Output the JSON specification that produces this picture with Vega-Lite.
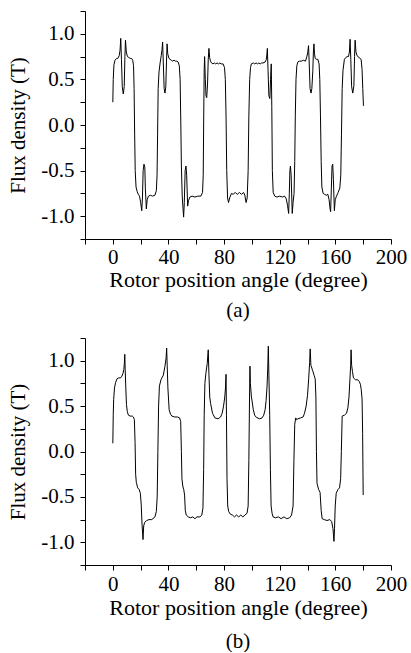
{
  "$schema": "https://vega.github.io/schema/vega-lite/v6.json",
  "background": "white",
  "padding": {"left": 7, "top": 0, "right": 0, "bottom": 0},
  "spacing": 6,
  "config": {
    "font": "Liberation Serif",
    "view": {"stroke": null},
    "axis": {
      "grid": false,
      "domainColor": "black",
      "tickColor": "black",
      "labelColor": "black",
      "titleColor": "black",
      "labelFont": "Liberation Serif",
      "titleFont": "Liberation Serif",
      "labelFontSize": 21,
      "titleFontSize": 21,
      "titleFontWeight": "normal",
      "tickSize": 5,
      "labelFlush": false,
      "labelOverlap": false
    },
    "axisX": {"titleFontSize": 22},
    "title": {"font": "Liberation Serif", "fontSize": 21, "fontWeight": "normal", "color": "black"}
  },
  "datasets": {
    "a": [
      {"angle": 0, "flux": 0.25}, {"angle": 0.3, "flux": 0.5}, {"angle": 0.8, "flux": 0.66}, {"angle": 1.6, "flux": 0.71},
      {"angle": 2.7, "flux": 0.73}, {"angle": 3.6, "flux": 0.73}, {"angle": 4.6, "flux": 0.76}, {"angle": 5.2, "flux": 0.82},
      {"angle": 5.7, "flux": 0.95}, {"angle": 6.2, "flux": 0.72}, {"angle": 6.8, "flux": 0.42}, {"angle": 7.5, "flux": 0.34},
      {"angle": 8.2, "flux": 0.42}, {"angle": 8.7, "flux": 0.75}, {"angle": 9.1, "flux": 0.93}, {"angle": 9.7, "flux": 0.8},
      {"angle": 10.5, "flux": 0.75}, {"angle": 11.5, "flux": 0.74}, {"angle": 12.5, "flux": 0.73}, {"angle": 13.5, "flux": 0.73},
      {"angle": 14.3, "flux": 0.71}, {"angle": 14.9, "flux": 0.65}, {"angle": 15.3, "flux": 0.4}, {"angle": 15.7, "flux": -0.1},
      {"angle": 16.1, "flux": -0.5}, {"angle": 16.7, "flux": -0.68}, {"angle": 17.5, "flux": -0.73}, {"angle": 18.3, "flux": -0.76},
      {"angle": 19.2, "flux": -0.78}, {"angle": 20.0, "flux": -0.85}, {"angle": 20.8, "flux": -0.94}, {"angle": 21.3, "flux": -0.8},
      {"angle": 21.8, "flux": -0.5}, {"angle": 22.4, "flux": -0.43}, {"angle": 23.0, "flux": -0.46}, {"angle": 23.4, "flux": -0.7},
      {"angle": 24.1, "flux": -0.92}, {"angle": 24.7, "flux": -0.82}, {"angle": 25.6, "flux": -0.78}, {"angle": 27, "flux": -0.77},
      {"angle": 28.5, "flux": -0.78}, {"angle": 30.3, "flux": -0.77}, {"angle": 31.3, "flux": -0.72}, {"angle": 31.8, "flux": -0.55},
      {"angle": 32.2, "flux": -0.1}, {"angle": 32.6, "flux": 0.4}, {"angle": 33.2, "flux": 0.58}, {"angle": 34.0, "flux": 0.68},
      {"angle": 34.8, "flux": 0.76}, {"angle": 35.4, "flux": 0.83}, {"angle": 35.8, "flux": 0.91}, {"angle": 36.3, "flux": 0.68},
      {"angle": 36.9, "flux": 0.4}, {"angle": 37.5, "flux": 0.35}, {"angle": 38.1, "flux": 0.42}, {"angle": 38.6, "flux": 0.7},
      {"angle": 39.0, "flux": 0.89}, {"angle": 39.5, "flux": 0.78}, {"angle": 40.4, "flux": 0.73}, {"angle": 42, "flux": 0.71},
      {"angle": 43, "flux": 0.7}, {"angle": 44, "flux": 0.71}, {"angle": 45, "flux": 0.7}, {"angle": 46, "flux": 0.7},
      {"angle": 47, "flux": 0.69}, {"angle": 47.8, "flux": 0.65}, {"angle": 48.4, "flux": 0.5}, {"angle": 48.9, "flux": 0.0},
      {"angle": 49.3, "flux": -0.45}, {"angle": 49.9, "flux": -0.78}, {"angle": 50.4, "flux": -0.9}, {"angle": 50.9, "flux": -1.01},
      {"angle": 51.4, "flux": -0.85}, {"angle": 52.0, "flux": -0.5}, {"angle": 52.6, "flux": -0.45}, {"angle": 53.1, "flux": -0.55},
      {"angle": 53.8, "flux": -0.89}, {"angle": 54.4, "flux": -0.83}, {"angle": 55.4, "flux": -0.79}, {"angle": 57, "flux": -0.78},
      {"angle": 59, "flux": -0.79}, {"angle": 61, "flux": -0.78}, {"angle": 63.3, "flux": -0.78}, {"angle": 64.5, "flux": -0.74},
      {"angle": 65.0, "flux": -0.55}, {"angle": 65.3, "flux": 0.0}, {"angle": 65.7, "flux": 0.6}, {"angle": 66.0, "flux": 0.75},
      {"angle": 66.5, "flux": 0.5}, {"angle": 67.0, "flux": 0.32}, {"angle": 67.5, "flux": 0.3}, {"angle": 68.1, "flux": 0.45},
      {"angle": 68.6, "flux": 0.72}, {"angle": 69.1, "flux": 0.84}, {"angle": 69.6, "flux": 0.74}, {"angle": 70.2, "flux": 0.7},
      {"angle": 71, "flux": 0.68}, {"angle": 72, "flux": 0.67}, {"angle": 73, "flux": 0.68}, {"angle": 74, "flux": 0.67},
      {"angle": 75, "flux": 0.68}, {"angle": 76, "flux": 0.67}, {"angle": 77, "flux": 0.68}, {"angle": 78, "flux": 0.67},
      {"angle": 79.3, "flux": 0.67}, {"angle": 80.3, "flux": 0.63}, {"angle": 80.9, "flux": 0.5}, {"angle": 81.4, "flux": 0.1},
      {"angle": 81.9, "flux": -0.5}, {"angle": 82.5, "flux": -0.8}, {"angle": 83.2, "flux": -0.85}, {"angle": 84, "flux": -0.8},
      {"angle": 85.3, "flux": -0.75}, {"angle": 86.5, "flux": -0.76}, {"angle": 88, "flux": -0.74}, {"angle": 89.5, "flux": -0.76},
      {"angle": 91, "flux": -0.74}, {"angle": 92.5, "flux": -0.76}, {"angle": 94, "flux": -0.74}, {"angle": 94.9, "flux": -0.77},
      {"angle": 95.8, "flux": -0.85}, {"angle": 96.6, "flux": -0.8}, {"angle": 97.3, "flux": -0.5}, {"angle": 97.8, "flux": 0.1},
      {"angle": 98.4, "flux": 0.5}, {"angle": 99.0, "flux": 0.63}, {"angle": 99.6, "flux": 0.67}, {"angle": 101, "flux": 0.68},
      {"angle": 102, "flux": 0.67}, {"angle": 103, "flux": 0.68}, {"angle": 104, "flux": 0.67}, {"angle": 105, "flux": 0.68},
      {"angle": 106, "flux": 0.67}, {"angle": 107, "flux": 0.68}, {"angle": 108, "flux": 0.68}, {"angle": 109.5, "flux": 0.69},
      {"angle": 110.4, "flux": 0.72}, {"angle": 110.8, "flux": 0.78}, {"angle": 111.1, "flux": 0.84}, {"angle": 111.6, "flux": 0.6},
      {"angle": 112.2, "flux": 0.32}, {"angle": 112.9, "flux": 0.29}, {"angle": 113.4, "flux": 0.5}, {"angle": 113.9, "flux": 0.67},
      {"angle": 114.3, "flux": 0.2}, {"angle": 114.7, "flux": -0.5}, {"angle": 115.3, "flux": -0.74}, {"angle": 116.4, "flux": -0.78},
      {"angle": 118, "flux": -0.79}, {"angle": 120, "flux": -0.78}, {"angle": 122, "flux": -0.79}, {"angle": 123.5, "flux": -0.78},
      {"angle": 124.7, "flux": -0.81}, {"angle": 125.6, "flux": -0.88}, {"angle": 126.4, "flux": -0.97}, {"angle": 126.9, "flux": -0.75},
      {"angle": 127.3, "flux": -0.5}, {"angle": 127.7, "flux": -0.45}, {"angle": 128.2, "flux": -0.55}, {"angle": 129.0, "flux": -0.97},
      {"angle": 129.6, "flux": -0.85}, {"angle": 130.3, "flux": -0.75}, {"angle": 130.8, "flux": -0.4}, {"angle": 131.2, "flux": 0.1},
      {"angle": 131.7, "flux": 0.5}, {"angle": 132.3, "flux": 0.65}, {"angle": 133, "flux": 0.69}, {"angle": 134, "flux": 0.7},
      {"angle": 135.5, "flux": 0.7}, {"angle": 137, "flux": 0.71}, {"angle": 138.5, "flux": 0.7}, {"angle": 139.5, "flux": 0.75},
      {"angle": 140.2, "flux": 0.8}, {"angle": 140.7, "flux": 0.87}, {"angle": 141.2, "flux": 0.68}, {"angle": 141.8, "flux": 0.4},
      {"angle": 142.5, "flux": 0.35}, {"angle": 143.1, "flux": 0.4}, {"angle": 143.8, "flux": 0.6}, {"angle": 144.2, "flux": 0.8},
      {"angle": 144.6, "flux": 0.89}, {"angle": 145.0, "flux": 0.78}, {"angle": 145.5, "flux": 0.73}, {"angle": 146.5, "flux": 0.72},
      {"angle": 147.4, "flux": 0.72}, {"angle": 148.3, "flux": 0.67}, {"angle": 148.8, "flux": 0.5}, {"angle": 149.3, "flux": 0.1},
      {"angle": 149.8, "flux": -0.4}, {"angle": 150.3, "flux": -0.68}, {"angle": 151.2, "flux": -0.75}, {"angle": 152.2, "flux": -0.76},
      {"angle": 153.5, "flux": -0.77}, {"angle": 154.6, "flux": -0.76}, {"angle": 155.5, "flux": -0.82}, {"angle": 156.2, "flux": -0.92},
      {"angle": 156.6, "flux": -0.95}, {"angle": 157.1, "flux": -0.7}, {"angle": 157.6, "flux": -0.45}, {"angle": 158.1, "flux": -0.43},
      {"angle": 158.6, "flux": -0.6}, {"angle": 159.3, "flux": -0.94}, {"angle": 159.9, "flux": -0.82}, {"angle": 160.8, "flux": -0.78},
      {"angle": 162, "flux": -0.74}, {"angle": 163.2, "flux": -0.69}, {"angle": 163.9, "flux": -0.55}, {"angle": 164.4, "flux": -0.1},
      {"angle": 164.9, "flux": 0.4}, {"angle": 165.5, "flux": 0.6}, {"angle": 166.5, "flux": 0.72}, {"angle": 167.5, "flux": 0.74},
      {"angle": 168.5, "flux": 0.75}, {"angle": 169.4, "flux": 0.75}, {"angle": 170.1, "flux": 0.8}, {"angle": 170.6, "flux": 0.94},
      {"angle": 171.1, "flux": 0.72}, {"angle": 171.7, "flux": 0.42}, {"angle": 172.5, "flux": 0.35}, {"angle": 173.3, "flux": 0.43},
      {"angle": 173.8, "flux": 0.75}, {"angle": 174.2, "flux": 0.93}, {"angle": 174.8, "flux": 0.8}, {"angle": 175.6, "flux": 0.76},
      {"angle": 177, "flux": 0.74}, {"angle": 178.5, "flux": 0.72}, {"angle": 179.2, "flux": 0.61}, {"angle": 179.7, "flux": 0.4},
      {"angle": 180.2, "flux": 0.21}
    ],
    "b": [
      {"angle": 0, "flux": 0.09}, {"angle": 0.3, "flux": 0.4}, {"angle": 0.6, "flux": 0.57}, {"angle": 1.2, "flux": 0.7},
      {"angle": 2.0, "flux": 0.76}, {"angle": 3.0, "flux": 0.8}, {"angle": 4.0, "flux": 0.81}, {"angle": 5.5, "flux": 0.81},
      {"angle": 6.5, "flux": 0.83}, {"angle": 7.3, "flux": 0.86}, {"angle": 7.9, "flux": 0.9}, {"angle": 8.3, "flux": 0.97},
      {"angle": 8.6, "flux": 1.07}, {"angle": 8.9, "flux": 0.9}, {"angle": 9.3, "flux": 0.72}, {"angle": 9.8, "flux": 0.52},
      {"angle": 10.4, "flux": 0.44}, {"angle": 11.2, "flux": 0.4}, {"angle": 12.5, "flux": 0.39}, {"angle": 14, "flux": 0.39},
      {"angle": 14.8, "flux": 0.38}, {"angle": 15.5, "flux": 0.35}, {"angle": 16.0, "flux": 0.1}, {"angle": 16.4, "flux": -0.25},
      {"angle": 16.9, "flux": -0.34}, {"angle": 17.9, "flux": -0.4}, {"angle": 19.0, "flux": -0.42}, {"angle": 19.8, "flux": -0.46},
      {"angle": 20.4, "flux": -0.58}, {"angle": 21.0, "flux": -0.8}, {"angle": 21.7, "flux": -0.97}, {"angle": 22.2, "flux": -0.82},
      {"angle": 22.9, "flux": -0.78}, {"angle": 24.4, "flux": -0.76}, {"angle": 26, "flux": -0.75}, {"angle": 28, "flux": -0.75},
      {"angle": 30.3, "flux": -0.72}, {"angle": 31.3, "flux": -0.66}, {"angle": 31.9, "flux": -0.5}, {"angle": 32.4, "flux": 0.0},
      {"angle": 32.9, "flux": 0.5}, {"angle": 33.5, "flux": 0.72}, {"angle": 34.6, "flux": 0.79}, {"angle": 36.3, "flux": 0.84},
      {"angle": 37.5, "flux": 0.94}, {"angle": 38.3, "flux": 1.03}, {"angle": 38.7, "flux": 1.14}, {"angle": 39.1, "flux": 0.95},
      {"angle": 39.6, "flux": 0.7}, {"angle": 40.5, "flux": 0.46}, {"angle": 41.5, "flux": 0.41}, {"angle": 42.5, "flux": 0.39},
      {"angle": 44.5, "flux": 0.38}, {"angle": 46.5, "flux": 0.38}, {"angle": 48.0, "flux": 0.37}, {"angle": 48.8, "flux": 0.33},
      {"angle": 49.3, "flux": 0.0}, {"angle": 49.7, "flux": -0.3}, {"angle": 50.3, "flux": -0.38}, {"angle": 51.0, "flux": -0.42},
      {"angle": 51.6, "flux": -0.48}, {"angle": 52.1, "flux": -0.65}, {"angle": 52.8, "flux": -0.7}, {"angle": 54.2, "flux": -0.72},
      {"angle": 56, "flux": -0.73}, {"angle": 57.5, "flux": -0.72}, {"angle": 59, "flux": -0.74}, {"angle": 60.5, "flux": -0.72},
      {"angle": 62.6, "flux": -0.72}, {"angle": 64.0, "flux": -0.7}, {"angle": 64.8, "flux": -0.62}, {"angle": 65.3, "flux": -0.2},
      {"angle": 65.7, "flux": 0.4}, {"angle": 66.2, "flux": 0.75}, {"angle": 66.9, "flux": 0.86}, {"angle": 67.9, "flux": 0.97},
      {"angle": 68.6, "flux": 1.12}, {"angle": 69.1, "flux": 0.85}, {"angle": 69.7, "flux": 0.6}, {"angle": 70.3, "flux": 0.53},
      {"angle": 71.7, "flux": 0.42}, {"angle": 73.4, "flux": 0.37}, {"angle": 75.7, "flux": 0.36}, {"angle": 77.5, "flux": 0.38},
      {"angle": 78.6, "flux": 0.42}, {"angle": 79.6, "flux": 0.5}, {"angle": 80.5, "flux": 0.6}, {"angle": 81.0, "flux": 0.7},
      {"angle": 81.4, "flux": 0.85}, {"angle": 81.7, "flux": 0.4}, {"angle": 82.1, "flux": -0.3}, {"angle": 82.6, "flux": -0.6},
      {"angle": 83.3, "flux": -0.66}, {"angle": 84.5, "flux": -0.69}, {"angle": 86, "flux": -0.7}, {"angle": 87.5, "flux": -0.72},
      {"angle": 89, "flux": -0.7}, {"angle": 90.5, "flux": -0.72}, {"angle": 92, "flux": -0.7}, {"angle": 93.5, "flux": -0.72},
      {"angle": 95, "flux": -0.7}, {"angle": 96.5, "flux": -0.68}, {"angle": 97.3, "flux": -0.6}, {"angle": 97.8, "flux": -0.1},
      {"angle": 98.3, "flux": 0.6}, {"angle": 98.6, "flux": 0.94}, {"angle": 98.9, "flux": 0.75}, {"angle": 99.6, "flux": 0.61},
      {"angle": 101.0, "flux": 0.46}, {"angle": 102, "flux": 0.4}, {"angle": 103.2, "flux": 0.375}, {"angle": 105.6, "flux": 0.36},
      {"angle": 107.3, "flux": 0.37}, {"angle": 108.5, "flux": 0.4}, {"angle": 109.5, "flux": 0.46}, {"angle": 110.2, "flux": 0.56},
      {"angle": 110.9, "flux": 0.72}, {"angle": 111.4, "flux": 0.92}, {"angle": 111.8, "flux": 1.16}, {"angle": 112.2, "flux": 0.85},
      {"angle": 112.8, "flux": 0.4}, {"angle": 113.3, "flux": -0.2}, {"angle": 113.8, "flux": -0.6}, {"angle": 114.5, "flux": -0.68},
      {"angle": 115.2, "flux": -0.72}, {"angle": 117, "flux": -0.73}, {"angle": 119, "flux": -0.72}, {"angle": 121, "flux": -0.74},
      {"angle": 123, "flux": -0.72}, {"angle": 125, "flux": -0.74}, {"angle": 127.1, "flux": -0.73}, {"angle": 128.5, "flux": -0.7},
      {"angle": 129.6, "flux": -0.6}, {"angle": 130.2, "flux": -0.1}, {"angle": 130.8, "flux": 0.3}, {"angle": 131.5, "flux": 0.37},
      {"angle": 132.2, "flux": 0.35}, {"angle": 133, "flux": 0.36}, {"angle": 135, "flux": 0.37}, {"angle": 136.8, "flux": 0.38},
      {"angle": 137.8, "flux": 0.42}, {"angle": 139, "flux": 0.5}, {"angle": 140, "flux": 0.62}, {"angle": 140.8, "flux": 0.8},
      {"angle": 141.5, "flux": 0.98}, {"angle": 141.9, "flux": 1.13}, {"angle": 142.4, "flux": 0.95}, {"angle": 143.7, "flux": 0.89},
      {"angle": 144.7, "flux": 0.84}, {"angle": 145.5, "flux": 0.8}, {"angle": 146.0, "flux": 0.6}, {"angle": 146.4, "flux": 0.0},
      {"angle": 146.8, "flux": -0.35}, {"angle": 148.0, "flux": -0.42}, {"angle": 149.0, "flux": -0.45}, {"angle": 149.8, "flux": -0.65},
      {"angle": 150.5, "flux": -0.74}, {"angle": 152, "flux": -0.75}, {"angle": 154, "flux": -0.76}, {"angle": 156, "flux": -0.75},
      {"angle": 157.3, "flux": -0.77}, {"angle": 158.3, "flux": -0.85}, {"angle": 159.0, "flux": -0.99}, {"angle": 159.4, "flux": -0.85},
      {"angle": 159.9, "flux": -0.6}, {"angle": 160.6, "flux": -0.46}, {"angle": 161.8, "flux": -0.42}, {"angle": 163.0, "flux": -0.4},
      {"angle": 163.8, "flux": -0.3}, {"angle": 164.3, "flux": 0.0}, {"angle": 164.9, "flux": 0.39}, {"angle": 166.5, "flux": 0.4},
      {"angle": 168.0, "flux": 0.42}, {"angle": 169.0, "flux": 0.48}, {"angle": 169.8, "flux": 0.6}, {"angle": 170.5, "flux": 0.8},
      {"angle": 171.0, "flux": 0.95}, {"angle": 171.3, "flux": 1.12}, {"angle": 171.7, "flux": 0.95}, {"angle": 172.3, "flux": 0.88},
      {"angle": 173.0, "flux": 0.81}, {"angle": 174.5, "flux": 0.79}, {"angle": 176.1, "flux": 0.79}, {"angle": 177.2, "flux": 0.77},
      {"angle": 178.0, "flux": 0.74}, {"angle": 178.6, "flux": 0.68}, {"angle": 179.2, "flux": 0.58}, {"angle": 179.6, "flux": 0.2},
      {"angle": 180.0, "flux": -0.48}
    ]
  },
  "vconcat": [
    {
      "width": 306,
      "height": 228,
      "data": {"name": "a"},
      "title": {"text": "(a)", "orient": "bottom", "anchor": "middle", "frame": "group", "offset": 10},
      "mark": {"type": "line", "color": "black", "strokeWidth": 1, "interpolate": "linear"},
      "encoding": {
        "x": {
          "field": "angle", "type": "quantitative",
          "scale": {"domain": [-20, 200], "nice": false, "zero": false},
          "axis": {
            "title": "Rotor position angle (degree)",
            "values": [-20, 0, 20, 40, 60, 80, 100, 120, 140, 160, 180, 200],
            "labelExpr": "(datum.value >= 0 && datum.value % 40 == 0) ? datum.label : ''",
            "labelPadding": 2,
            "titlePadding": 2
          }
        },
        "y": {
          "field": "flux", "type": "quantitative",
          "scale": {"domain": [-1.25, 1.25], "nice": false, "zero": false},
          "axis": {
            "title": "Flux density (T)",
            "values": [-1.25, -1, -0.75, -0.5, -0.25, 0, 0.25, 0.5, 0.75, 1, 1.25],
            "labelExpr": "abs(datum.value * 2 - round(datum.value * 2)) < 0.01 ? ((datum.value < 0 ? '-' : '') + format(abs(datum.value), '.1f')) : ''",
            "labelPadding": 6,
            "titlePadding": 12
          }
        }
      }
    },
    {
      "width": 306,
      "height": 227,
      "data": {"name": "b"},
      "title": {"text": "(b)", "orient": "bottom", "anchor": "middle", "frame": "group", "offset": 13},
      "mark": {"type": "line", "color": "black", "strokeWidth": 1, "interpolate": "linear"},
      "encoding": {
        "x": {
          "field": "angle", "type": "quantitative",
          "scale": {"domain": [-20, 200], "nice": false, "zero": false},
          "axis": {
            "title": "Rotor position angle (degree)",
            "values": [-20, 0, 20, 40, 60, 80, 100, 120, 140, 160, 180, 200],
            "labelExpr": "(datum.value >= 0 && datum.value % 40 == 0) ? datum.label : ''",
            "labelPadding": 3,
            "titlePadding": 3
          }
        },
        "y": {
          "field": "flux", "type": "quantitative",
          "scale": {"domain": [-1.25, 1.25], "nice": false, "zero": false},
          "axis": {
            "title": "Flux density (T)",
            "values": [-1.25, -1, -0.75, -0.5, -0.25, 0, 0.25, 0.5, 0.75, 1, 1.25],
            "labelExpr": "abs(datum.value * 2 - round(datum.value * 2)) < 0.01 ? ((datum.value < 0 ? '-' : '') + format(abs(datum.value), '.1f')) : ''",
            "labelPadding": 6,
            "titlePadding": 12
          }
        }
      }
    }
  ]
}
